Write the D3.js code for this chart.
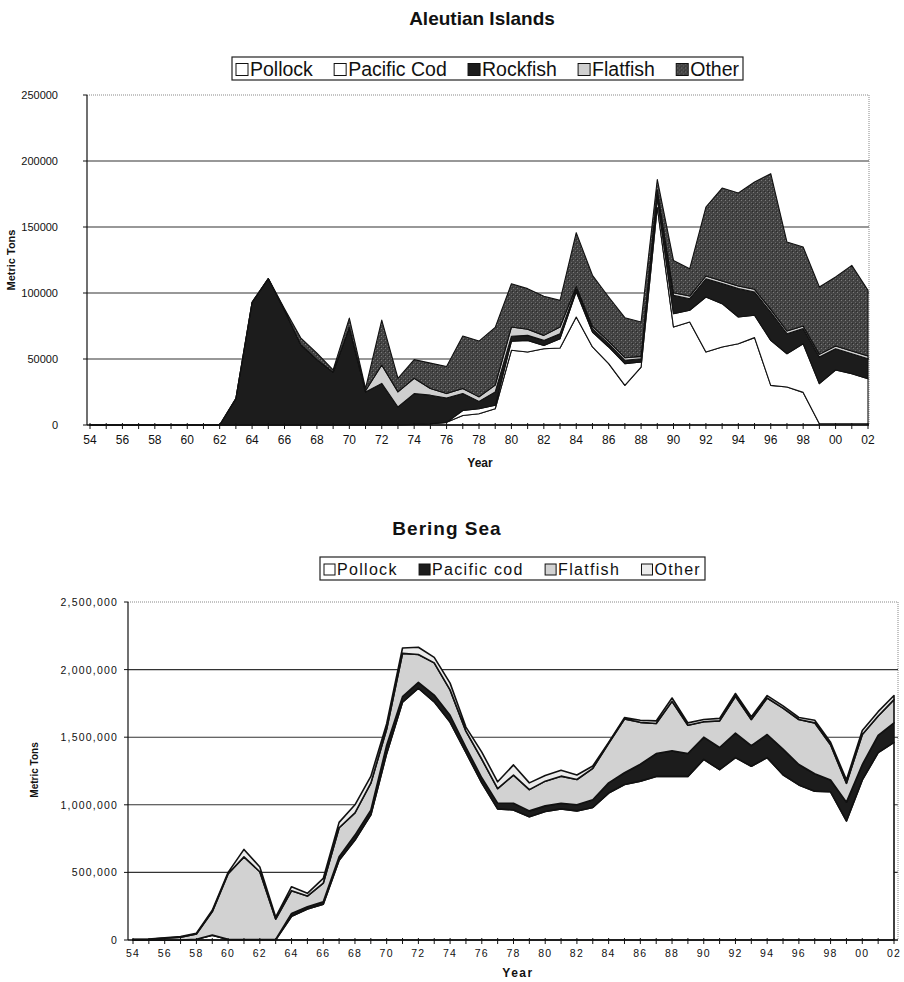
<!DOCTYPE html>
<html>
<head>
<meta charset="utf-8">
<script src="https://cdn.jsdelivr.net/npm/d3@7"></script>
<style>
  body { margin: 0; background: #fff; }
  svg { display: block; }
  text { font-family: "Liberation Sans", Arial, sans-serif; fill: #111; }
</style>
</head>
<body>
<svg id="chart" width="904" height="982"></svg>
<script>
// Categories (fishing years)
const years = [1954, 1955, 1956, 1957, 1958, 1959, 1960, 1961, 1962, 1963,
               1964, 1965, 1966, 1967, 1968, 1969, 1970, 1971, 1972, 1973,
               1974, 1975, 1976, 1977, 1978, 1979, 1980, 1981, 1982, 1983,
               1984, 1985, 1986, 1987, 1988, 1989, 1990, 1991, 1992, 1993,
               1994, 1995, 1996, 1997, 1998, 1999, 2000, 2001, 2002];
const yearTickLabels = ['54', '56', '58', '60', '62', '64', '66', '68', '70', '72', '74', '76',
                        '78', '80', '82', '84', '86', '88', '90', '92', '94', '96', '98', '00', '02'];

// Aleutian Islands catch (metric tons)
const aiPollock = [0, 0, 0, 0, 0, 0, 0, 0, 0, 0, 0, 0, 0, 0, 0, 0, 0, 0, 0, 0,
                   500, 1000, 2000, 7200, 8500, 12300, 56600, 55300, 57800, 58300,
                   81800, 59100, 46500, 30000, 43900, 165000, 74200, 78000, 55300, 59100,
                   61600, 66200, 30000, 28800, 24700, 1000, 1000, 1000, 1000];
const aiCod = [0, 0, 0, 0, 0, 0, 0, 0, 0, 0, 0, 0, 0, 0, 0, 0, 0, 0, 0, 0, 0, 0, 0,
               3800, 3800, 2600, 6800, 8800, 2500, 7100, 19200, 11300, 12600, 16500, 3800,
               7000, 10100, 8900, 41700, 32800, 20200, 16900, 34100, 25200, 36900, 30300,
               40700, 37900, 34100];
const aiRockfish = [0, 0, 0, 0, 0, 0, 0, 0, 0, 20000, 93000, 111000, 87000, 61000, 49500,
                    40000, 74000, 25000, 31500, 13600, 23300, 21600, 18500, 12800, 5600, 10200,
                    3800, 3800, 3800, 3800, 2000, 2600, 2500, 2500, 2500, 4000, 13900, 8800,
                    13800, 15200, 21500, 17600, 21500, 15200, 11400, 20200, 16100, 15100, 15100];
const aiFlatfish = [0, 0, 0, 0, 0, 0, 0, 0, 0, 0, 0, 0, 0, 0, 0, 0, 0,
                    1000, 14000, 11500, 11600, 5100, 3300, 3900, 3400, 5100, 7000, 4600, 3800,
                    5000, 2000, 1700, 1800, 2000, 1800, 2000, 2000, 2000, 2100, 2000, 2000,
                    2100, 2000, 2000, 2000, 2000, 2000, 2000, 2100];
const aiOther = [0, 0, 0, 0, 0, 0, 0, 0, 0, 0, 0, 0,
                 1000, 5000, 5000, 1800, 7000, 1700, 34000, 10300, 14100, 19200, 20500, 39700,
                 42300, 43800, 32800, 30800, 29600, 20200, 40700, 38700, 33600, 30300, 26000,
                 8000, 24500, 20700, 52200, 70400, 70400, 81300, 102800, 67400, 59800, 51000,
                 52300, 64900, 49700];
const aiTicks = [0, 50000, 100000, 150000, 200000, 250000];

// Bering Sea catch (metric tons)
const bsPollock = [0, 0, 0, 0, 5000, 35000, 3000, 2000, 2000, 2000,
                   175000, 230000, 265000, 590000, 740000, 925000, 1380000, 1760000, 1862000, 1762000,
                   1612000, 1387000, 1162000, 970000, 962000, 912000, 950000, 970000, 955000, 980000,
                   1087000, 1150000, 1175000, 1210000, 1210000, 1210000, 1336000, 1260000, 1349000, 1285000,
                   1349000, 1222000, 1147000, 1101000, 1096000, 881000, 1184000, 1386000, 1462000];
const bsCod = [0, 0, 0, 0, 1000, 2000, 2000, 2000, 2000, 2000,
               22000, 16000, 18000, 26000, 36000, 35000, 60000, 40000, 43000, 50000,
               50000, 38000, 38000, 42000, 50000, 43000, 42000, 42000, 45000, 57000,
               75000, 87000, 125000, 169000, 189000, 169000, 164000, 164000, 181000, 152000,
               171000, 190000, 151000, 129000, 88000, 139000, 114000, 127000, 144000];
const bsFlatfish = [3000, 5000, 14000, 20000, 38000, 173000, 485000, 611000, 501000, 151000,
                    168000, 79000, 137000, 214000, 164000, 200000, 120000, 320000, 207000, 238000,
                    188000, 120000, 137000, 108000, 208000, 157000, 183000, 200000, 187000, 233000,
                    293000, 398000, 310000, 222000, 366000, 209000, 114000, 197000, 273000, 194000,
                    270000, 303000, 333000, 376000, 260000, 139000, 222000, 144000, 172000];
const bsOther = [2000, 2000, 3000, 5000, 6000, 10000, 10000, 55000, 35000, 15000,
                 29000, 20000, 36000, 40000, 60000, 50000, 40000, 40000, 53000, 40000,
                 50000, 30000, 53000, 50000, 75000, 50000, 42000, 43000, 33000, 17000,
                 7000, 10000, 15000, 20000, 25000, 18000, 17000, 18000, 20000, 20000,
                 18000, 17000, 15000, 20000, 18000, 25000, 30000, 32000, 30000];
const bsTicks = [0, 500000, 1000000, 1500000, 2000000, 2500000];

const svg = d3.select('#chart');

// Speckled fill used for the dark "Other" series
const defs = svg.append('defs');
const speckle = defs.append('pattern')
    .attr('id', 'speckle')
    .attr('width', 4).attr('height', 4)
    .attr('patternUnits', 'userSpaceOnUse');
speckle.append('rect').attr('width', 4).attr('height', 4).style('fill', '#434343');
speckle.append('rect').attr('x', 1).attr('y', 0).attr('width', 1).attr('height', 1).style('fill', '#7a7a7a');
speckle.append('rect').attr('x', 3).attr('y', 2).attr('width', 1).attr('height', 1).style('fill', '#6a6a6a');
speckle.append('rect').attr('x', 0).attr('y', 3).attr('width', 1).attr('height', 1).style('fill', '#2a2a2a');

// Draw one stacked area panel
function drawPanel(cfg) {
    const g = svg.append('g');
    const { box } = cfg;

    const x = d3.scaleLinear()
        .domain([years[0], years[years.length - 1]])
        .range([box.x0, box.x1]);
    const y = d3.scaleLinear()
        .domain([0, cfg.ticks[cfg.ticks.length - 1]])
        .range([box.bottom, box.top]);

    // gridlines (behind the series)
    g.append('g')
        .selectAll('line')
        .data(cfg.ticks.slice(1, -1))
        .join('line')
        .attr('x1', box.left).attr('x2', box.right)
        .attr('y1', d => y(d)).attr('y2', d => y(d))
        .style('stroke', '#333')
        .style('stroke-width', 1.1);

    // plot border, dotted on top and right
    g.append('path')
        .attr('d', `M${box.left},${box.top}H${box.right}V${box.bottom}`)
        .style('fill', 'none')
        .style('stroke', '#888')
        .style('stroke-width', 1)
        .style('stroke-dasharray', '1,1');

    const rows = years.map((yr, i) => {
        const r = { year: yr };
        cfg.series.forEach(s => { r[s.key] = s.values[i]; });
        return r;
    });
    const stacked = d3.stack().keys(cfg.series.map(s => s.key))(rows);

    const area = d3.area()
        .x(d => x(d.data.year))
        .y0(d => y(d[0]))
        .y1(d => y(d[1]));

    g.append('g')
        .selectAll('path')
        .data(stacked)
        .join('path')
        .attr('d', area)
        .style('fill', (d, i) => cfg.series[i].color)
        .style('stroke', '#111')
        .style('stroke-width', cfg.strokeWidth)
        .style('stroke-linejoin', 'round');

    // axes
    g.append('line')
        .attr('x1', box.left).attr('x2', box.left)
        .attr('y1', box.top).attr('y2', box.bottom)
        .style('stroke', '#111').style('stroke-width', 1.2);
    g.append('line')
        .attr('x1', box.left).attr('x2', box.right)
        .attr('y1', box.bottom).attr('y2', box.bottom)
        .style('stroke', '#111').style('stroke-width', 1.6);

    // y ticks and labels
    g.append('g')
        .selectAll('line')
        .data(cfg.ticks)
        .join('line')
        .attr('x1', box.left - 4).attr('x2', box.left)
        .attr('y1', d => y(d)).attr('y2', d => y(d))
        .style('stroke', '#111');
    g.append('g')
        .selectAll('text')
        .data(cfg.ticks)
        .join('text')
        .attr('x', cfg.yLabelX)
        .attr('y', d => y(d) + 4)
        .attr('text-anchor', 'end')
        .style('font-size', cfg.tickFont)
        .style('letter-spacing', cfg.tickSpacing)
        .text(cfg.tickFormat);

    // x ticks at every year, labels every second year
    g.append('g')
        .selectAll('line')
        .data(years)
        .join('line')
        .attr('x1', d => x(d)).attr('x2', d => x(d))
        .attr('y1', box.bottom - 2).attr('y2', box.bottom + 4)
        .style('stroke', '#111');
    g.append('g')
        .selectAll('text')
        .data(years.filter((d, i) => i % 2 === 0))
        .join('text')
        .attr('x', d => x(d))
        .attr('y', cfg.xLabelY)
        .attr('text-anchor', 'middle')
        .style('font-size', cfg.xTickFont)
        .style('letter-spacing', cfg.tickSpacing)
        .text((d, i) => yearTickLabels[i]);

    // titles
    svg.append('text')
        .attr('x', cfg.title.x).attr('y', cfg.title.y)
        .attr('text-anchor', 'middle')
        .style('font-size', '19px').style('font-weight', 'bold')
        .style('letter-spacing', cfg.title.spacing)
        .text(cfg.title.text);
    svg.append('text')
        .attr('x', cfg.xTitle.x).attr('y', cfg.xTitle.y)
        .attr('text-anchor', 'middle')
        .style('font-size', '12px').style('font-weight', 'bold')
        .style('letter-spacing', cfg.xTitle.spacing)
        .text('Year');
    svg.append('text')
        .attr('transform', `translate(${cfg.yTitle.x},${cfg.yTitle.y}) rotate(-90)`)
        .attr('text-anchor', 'middle')
        .style('font-size', cfg.yTitle.size).style('font-weight', 'bold')
        .text('Metric Tons');

    // legend
    const lg = svg.append('g');
    const L = cfg.legend;
    lg.append('rect')
        .attr('x', L.x).attr('y', L.y).attr('width', L.w).attr('height', L.h)
        .style('fill', '#fff').style('stroke', '#222').style('stroke-width', 1.2);
    const items = lg.selectAll('g.item')
        .data(cfg.series)
        .join('g').attr('class', 'item');
    items.append('rect')
        .attr('width', L.sw).attr('height', L.sw)
        .style('fill', d => d.swatch || d.color)
        .style('stroke', '#111').style('stroke-width', 1);
    items.append('text')
        .attr('x', L.sw + 2)
        .attr('y', L.sw)
        .style('font-size', L.font)
        .style('letter-spacing', L.spacing)
        .text(d => d.label);
    let widths = [];
    items.each(function () {
        widths.push(L.sw + 2 + d3.select(this).select('text').node().getComputedTextLength());
    });
    const gap = (L.w - 8 - d3.sum(widths)) / (widths.length - 1);
    let cx = L.x + 4;
    items.attr('transform', (d, i) => {
        const t = `translate(${cx},${L.y + (L.h - L.sw) / 2 + 1})`;
        cx += widths[i] + gap;
        return t;
    });
}

drawPanel({
    box: { left: 87, right: 869, top: 95, bottom: 425, x0: 90, x1: 868 },
    ticks: aiTicks,
    tickFormat: d => d,
    tickFont: '11px', xTickFont: '12px', tickSpacing: '0px',
    yLabelX: 58, xLabelY: 444, strokeWidth: 1.1,
    series: [
        { key: 'pollock', label: 'Pollock', values: aiPollock, color: '#ffffff' },
        { key: 'cod', label: 'Pacific Cod', values: aiCod, color: '#ffffff' },
        { key: 'rockfish', label: 'Rockfish', values: aiRockfish, color: '#1c1c1c' },
        { key: 'flatfish', label: 'Flatfish', values: aiFlatfish, color: '#cfcfcf' },
        { key: 'other', label: 'Other', values: aiOther, color: 'url(#speckle)' }
    ],
    title: { text: 'Aleutian Islands', x: 482, y: 25, spacing: '0px' },
    xTitle: { x: 480, y: 467, spacing: '0px' },
    yTitle: { x: 15, y: 260, size: '11px' },
    legend: { x: 232, y: 57, w: 511, h: 23, sw: 12, font: '19.5px', spacing: '0px' }
});

drawPanel({
    box: { left: 128, right: 898, top: 602, bottom: 940, x0: 133, x1: 894 },
    ticks: bsTicks,
    tickFormat: d3.format(','),
    tickFont: '10.5px', xTickFont: '10.5px', tickSpacing: '1.2px',
    yLabelX: 118, xLabelY: 957, strokeWidth: 1.6,
    series: [
        { key: 'pollock', label: 'Pollock', values: bsPollock, color: '#ffffff' },
        { key: 'cod', label: 'Pacific cod', values: bsCod, color: '#1c1c1c' },
        { key: 'flatfish', label: 'Flatfish', values: bsFlatfish, color: '#d2d2d2' },
        { key: 'other', label: 'Other', values: bsOther, color: '#ececec' }
    ],
    title: { text: 'Bering Sea', x: 447, y: 535, spacing: '1px' },
    xTitle: { x: 518, y: 977, spacing: '1.5px' },
    yTitle: { x: 38, y: 770, size: '10px' },
    legend: { x: 320, y: 557, w: 385, h: 23, sw: 11, font: '16px', spacing: '1.3px' }
});
</script>
</body>
</html>
